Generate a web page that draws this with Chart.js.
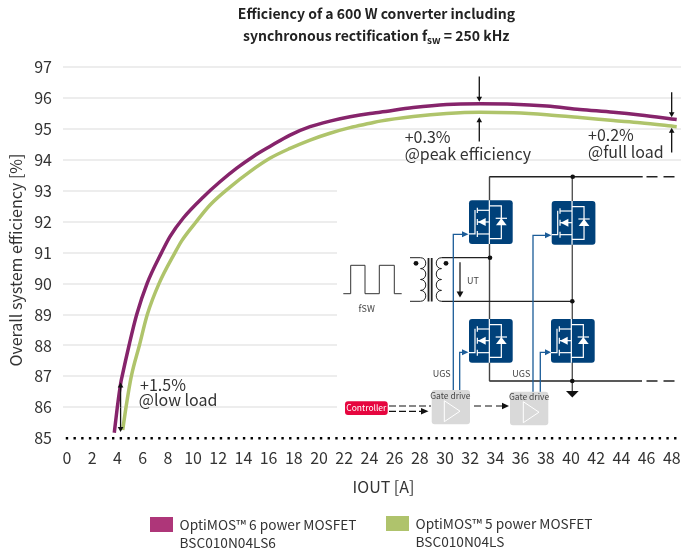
<!DOCTYPE html>
<html>
<head>
<meta charset="utf-8">
<title>Efficiency of a 600 W converter</title>
<script src="https://cdn.jsdelivr.net/npm/chart.js@4/dist/chart.umd.min.js"></script>
<style>
  html, body { margin: 0; padding: 0; background: #fff; }
  canvas { display: block; }
</style>
</head>
<body>
<canvas id="effChart" width="684" height="551"></canvas>
<script>
// values
const iout6 = [3.75, 3.99, 4.26, 4.37, 4.92, 5.53, 6.35, 7.5, 8.17, 9.23, 10.82, 12.14, 13.47, 14.79, 16.1, 17.7, 19.29, 20.87, 22.46, 24.05, 24.84, 27.48, 30.13, 32.78, 35.42, 38.07, 40.71, 43.36, 45.48, 48.39];
const eff6 = [85.18, 86, 86.78, 87, 88, 89, 90, 91, 91.52, 92.12, 92.8, 93.29, 93.73, 94.11, 94.43, 94.8, 95.07, 95.25, 95.39, 95.5, 95.54, 95.69, 95.79, 95.81, 95.8, 95.74, 95.63, 95.54, 95.45, 95.3];
const iout5 = [4.42, 4.68, 5.1, 5.74, 6.37, 7.3, 8.57, 9.1, 10.16, 11.35, 12.94, 14.52, 16.1, 17.7, 19.29, 20.87, 22.46, 24.05, 24.84, 27.48, 30.13, 32.78, 35.42, 38.07, 40.71, 43.36, 45.48, 48.39];
const eff5 = [85.27, 86, 87, 88, 89, 90, 91, 91.38, 91.95, 92.54, 93.12, 93.62, 94.05, 94.37, 94.64, 94.86, 95.04, 95.18, 95.25, 95.4, 95.5, 95.54, 95.52, 95.46, 95.37, 95.27, 95.2, 95.07];
const xTickValues = [0, 2, 4, 6, 8, 10, 12, 14, 16, 18, 20, 22, 24, 26, 28, 30, 32, 34, 36, 38, 40, 42, 44, 46, 48];
const seriesNames = ["OptiMOS\u2122 6 power MOSFET", "OptiMOS\u2122 5 power MOSFET"];
const partNumbers = ["BSC010N04LS6", "BSC010N04LS"];

const FONT = '"Noto Sans CJK SC", "Noto Sans", sans-serif';
const TEXT = "#333333";
const BLUE = "#00417A";
const WIRE = "#1B5C98";

function line(ctx, pts, color, width, dash) {
  ctx.save();
  ctx.strokeStyle = color;
  ctx.lineWidth = width;
  ctx.setLineDash(dash || []);
  ctx.beginPath();
  pts.forEach((p, i) => (i ? ctx.lineTo(p[0], p[1]) : ctx.moveTo(p[0], p[1])));
  ctx.stroke();
  ctx.restore();
}

function tri(ctx, a, b, c, color) {
  ctx.fillStyle = color;
  ctx.beginPath();
  ctx.moveTo(a[0], a[1]);
  ctx.lineTo(b[0], b[1]);
  ctx.lineTo(c[0], c[1]);
  ctx.closePath();
  ctx.fill();
}

function dot(ctx, x, y, r) {
  ctx.fillStyle = "#111";
  ctx.beginPath();
  ctx.arc(x, y, r, 0, Math.PI * 2);
  ctx.fill();
}

function label(ctx, str, x, y, font, color, align) {
  ctx.font = font;
  ctx.fillStyle = color || TEXT;
  ctx.textAlign = align || "left";
  ctx.textBaseline = "middle";
  ctx.fillText(str, x, y);
}

function roundBox(ctx, x, y, w, h, r, color) {
  ctx.fillStyle = color;
  ctx.beginPath();
  ctx.roundRect(x, y, w, h, r);
  ctx.fill();
}

// vertical arrow with the head on the "to" end
function vArrow(ctx, x, from, to, color) {
  const dir = to > from ? 1 : -1;
  line(ctx, [[x, from], [x, to - dir * 3]], color, 1.3);
  tri(ctx, [x - 2.8, to - dir * 5], [x + 2.8, to - dir * 5], [x, to], color);
}

function mosfet(ctx, x, y) {
  const s = 1 / 3; // glyph was measured on the 3x crop
  const w = "#ffffff";
  const P = (a, b) => [x + a * s, y + b * s];
  roundBox(ctx, x, y, 43.7, 43.7, 3, BLUE);
  line(ctx, [P(61, 0), P(61, 131)], w, 1.2);
  line(ctx, [P(61, 17), P(97, 17), P(97, 115), P(61, 115)], w, 1.2);
  line(ctx, [P(0, 101), P(18, 101), P(18, 29)], w, 1.2);
  line(ctx, [P(25, 22), P(25, 38)], w, 1.2);
  line(ctx, [P(25, 56), P(25, 74)], w, 1.2);
  line(ctx, [P(25, 92), P(25, 110)], w, 1.2);
  line(ctx, [P(25, 30), P(61, 30)], w, 1.2);
  line(ctx, [P(25, 65), P(61, 65)], w, 1.2);
  line(ctx, [P(25, 101), P(61, 101)], w, 1.2);
  tri(ctx, P(27, 65), P(50, 53), P(50, 77), w);
  tri(ctx, P(97, 54), P(81, 75), P(113, 75), w);
  line(ctx, [P(80, 54), P(114, 54)], w, 1.2);
}

function coil(ctx, x, top, bottom, bulge) {
  const n = 4;
  const h = (bottom - top) / n;
  ctx.strokeStyle = "#222";
  ctx.lineWidth = 1;
  ctx.beginPath();
  for (let i = 0; i < n; i++) {
    const y = top + i * h;
    ctx.moveTo(x, y);
    ctx.bezierCurveTo(x + bulge, y, x + bulge, y + h, x, y + h);
  }
  ctx.stroke();
}

function drawDiagram(ctx) {
  // rails and bridge legs
  line(ctx, [[489.3, 176.7], [642.7, 176.7]], "#222", 1.4);
  line(ctx, [[646.5, 176.7], [680, 176.7]], "#222", 1.4, [11, 6]);
  line(ctx, [[489.3, 381], [642, 381]], "#222", 1.4);
  line(ctx, [[646.5, 381], [680, 381]], "#222", 1.4, [11, 6]);
  line(ctx, [[489.5, 176.7], [489.5, 381]], "#444", 1.4);
  line(ctx, [[572.3, 176.7], [572.3, 391]], "#555", 1.4);
  tri(ctx, [566, 391], [578.7, 391], [572.3, 397.5], "#111");
  line(ctx, [[441.5, 257.7], [490, 257.7]], "#222", 1.2);
  line(ctx, [[441.5, 301.3], [572.3, 301.3]], "#222", 1.2);
  dot(ctx, 572.7, 176.7, 2.3);
  dot(ctx, 490, 257.7, 2.3);
  dot(ctx, 572.3, 301.3, 2.3);
  dot(ctx, 572.3, 381, 2.3);

  mosfet(ctx, 469, 200.3);
  mosfet(ctx, 551.7, 201);
  mosfet(ctx, 469, 319);
  mosfet(ctx, 551, 319);

  // gate signal wires
  line(ctx, [[453.3, 390], [453.3, 234.3], [464, 234.3]], WIRE, 1.3);
  tri(ctx, [462, 231.3], [462, 237.3], [468.5, 234.3], WIRE);
  line(ctx, [[459.7, 390], [459.7, 352.3], [464, 352.3]], WIRE, 1.3);
  tri(ctx, [462, 349.3], [462, 355.3], [468.5, 352.3], WIRE);
  line(ctx, [[533, 392], [533, 235.3], [547, 235.3]], WIRE, 1.3);
  tri(ctx, [545, 232.3], [545, 238.3], [551.3, 235.3], WIRE);
  line(ctx, [[540.3, 392], [540.3, 352.3], [547, 352.3]], WIRE, 1.3);
  tri(ctx, [545, 349.3], [545, 355.3], [551, 352.3], WIRE);

  // transformer
  line(ctx, [[410, 257.7], [420.5, 257.7]], "#222", 1);
  line(ctx, [[410, 301.3], [420.5, 301.3]], "#222", 1);
  coil(ctx, 420.5, 257.7, 301.3, 7);
  coil(ctx, 441.5, 257.7, 301.3, -7);
  line(ctx, [[428.5, 258], [428.5, 301.5]], "#222", 1.8);
  line(ctx, [[431.7, 258], [431.7, 301.5]], "#222", 1.8);
  dot(ctx, 416, 263.3, 2.4);
  dot(ctx, 446, 263.3, 2.4);
  line(ctx, [[460, 262.3], [460, 293]], "#222", 1.3);
  tri(ctx, [456.6, 291.6], [463.4, 291.6], [460, 297.5], "#111");
  label(ctx, "UT", 467, 281, "9px " + FONT, "#444");

  // switching waveform
  line(ctx, [[343.3, 293.7], [350.7, 293.7], [350.7, 265.3], [365, 265.3], [365, 293.7], [379.3, 293.7], [379.3, 265.3], [394.3, 265.3], [394.3, 293.7], [401.7, 293.7]], "#333", 1);
  label(ctx, "fSW", 366.7, 309, "9px " + FONT, "#444", "center");
  label(ctx, "UGS", 441.7, 374, "9px " + FONT, "#444", "center");
  label(ctx, "UGS", 521.3, 374, "9px " + FONT, "#444", "center");

  // controller and gate drives
  roundBox(ctx, 345, 401.3, 42.7, 13.7, 3, "#E6063F");
  label(ctx, "Controller", 366.3, 408, "8.5px " + FONT, "#fff", "center");
  line(ctx, [[389, 406], [431, 406]], "#111", 1.2, [7, 3]);
  line(ctx, [[389, 411.3], [422, 411.3]], "#111", 1.2, [7, 3]);
  tri(ctx, [421, 408], [421, 414.6], [428.5, 411.3], "#111");

  roundBox(ctx, 431.7, 390, 38.3, 34.3, 3, "#D9D9D9");
  roundBox(ctx, 510, 391.7, 38.3, 33.6, 3, "#D9D9D9");
  label(ctx, "Gate drive", 450.3, 395.5, "8.5px " + FONT, "#444", "center");
  label(ctx, "Gate drive", 529, 396.5, "8.5px " + FONT, "#444", "center");
  line(ctx, [[444.3, 400.7], [444.3, 421.7], [460, 411.2], [444.3, 400.7]], "#fff", 1);
  line(ctx, [[523.3, 401.7], [523.3, 422.7], [539, 412.2], [523.3, 401.7]], "#fff", 1);
  line(ctx, [[474, 406], [502, 406]], "#111", 1.2, [7, 4]);
  tri(ctx, [502, 402.8], [502, 409.2], [509, 406], "#111");
}

// the schematic hides the grid behind it
const whitePatch = {
  id: "whitePatch",
  beforeDatasetsDraw(chart) {
    const { ctx } = chart;
    ctx.fillStyle = "#fff";
    ctx.fillRect(337, 166, 347, 266);
  }
};

const decorations = {
  id: "decorations",
  afterDraw(chart) {
    const { ctx, scales } = chart;
    const X = v => scales.x.getPixelForValue(v);
    const Y = v => scales.y.getPixelForValue(v);

    // title
    const bold = "bold 14px " + FONT;
    label(ctx, "Efficiency of a 600 W converter including", 376.5, 14, bold, "#222", "center");
    label(ctx, "synchronous rectification f", 243, 36, bold, "#222");
    const w = ctx.measureText("synchronous rectification f").width;
    label(ctx, "sw", 243 + w, 40, "bold 10px " + FONT, "#222");
    const w2 = ctx.measureText("sw").width;
    label(ctx, " = 250 kHz", 243 + w + w2, 36, bold, "#222");

    label(ctx, "IOUT [A]", 383.5, 487, "16px " + FONT, TEXT, "center");

    // y axis title, sits lower than the middle of the axis
    ctx.save();
    ctx.translate(16, 260);
    ctx.rotate(-Math.PI / 2);
    label(ctx, "Overall system efficiency [%]", 0, 0, "16px " + FONT, TEXT, "center");
    ctx.restore();

    // difference arrows
    vArrow(ctx, X(32.72), Y(96.69), Y(95.88), "#111");
    vArrow(ctx, X(32.72), Y(94.59), Y(95.38), "#111");
    vArrow(ctx, X(47.99), Y(96.18), Y(95.38), "#111");
    vArrow(ctx, X(47.99), Y(94.24), Y(95.04), "#111");
    vArrow(ctx, X(4.25), Y(86), Y(86.8), "#111");
    vArrow(ctx, X(4.25), Y(86), Y(85.2), "#111");

    const note = "16px " + FONT;
    label(ctx, "+0.3%", X(26.8), Y(94.74), note);
    label(ctx, "@peak efficiency", X(26.8), Y(94.2), note);
    label(ctx, "+0.2%", X(41.35), Y(94.8), note);
    label(ctx, "@full load", X(41.35), Y(94.24), note);
    label(ctx, "+1.5%", X(5.8), Y(86.72), note);
    label(ctx, "@low load", X(5.7), Y(86.24), note);

    drawDiagram(ctx);

    // legend
    const legendX = [150, 386];
    const legendY = [517, 516];
    [ "#AE3679", "#AFC36C" ].forEach((c, i) => {
      ctx.fillStyle = c;
      ctx.fillRect(legendX[i], legendY[i], 23, 15);
      label(ctx, seriesNames[i], legendX[i] + 29.5, legendY[i] + 8, "13.7px " + FONT, TEXT);
      label(ctx, partNumbers[i], legendX[i] + 29.5, legendY[i] + 26, "13.7px " + FONT, TEXT);
    });
  }
};

const toPoints = (xs, ys) => xs.map((x, i) => ({ x: x, y: ys[i] }));

new Chart(document.getElementById("effChart").getContext("2d"), {
  type: "line",
  data: {
    datasets: [
      {
        label: seriesNames[0],
        data: toPoints(iout6, eff6),
        borderColor: "#86246B",
        borderWidth: 3.5,
        pointRadius: 0,
        cubicInterpolationMode: "monotone"
      },
      {
        label: seriesNames[1],
        data: toPoints(iout5, eff5),
        borderColor: "#AFC46B",
        borderWidth: 3.5,
        pointRadius: 0,
        cubicInterpolationMode: "monotone"
      },
      {
        label: "85 baseline",
        data: [{ x: -0.1, y: 85 }, { x: 48.73, y: 85 }],
        borderColor: "#000",
        borderWidth: 2.6,
        borderCapStyle: "butt",
        borderDash: [2.4, 5.3],
        pointRadius: 0,
        clip: 4
      }
    ]
  },
  options: {
    responsive: false,
    animation: false,
    layout: { padding: { top: 67, right: 3, left: 0, bottom: 0 } },
    plugins: {
      legend: { display: false },
      tooltip: { enabled: false },
      title: { display: false }
    },
    scales: {
      x: {
        type: "linear",
        min: -0.32,
        max: 48.73,
        afterBuildTicks: axis => { axis.ticks = xTickValues.map(v => ({ value: v })); },
        afterFit: axis => {
          axis.height = 112.7;
          // keep the "48" label from pulling the plot area in
          axis.paddingLeft = 0;
          axis.paddingRight = 0;
        },
        grid: { display: false, drawTicks: false },
        border: { display: false },
        ticks: {
          autoSkip: false,
          maxRotation: 0,
          padding: 10,
          color: TEXT,
          font: { family: FONT, size: 16 }
        }
      },
      y: {
        min: 85,
        max: 97,
        afterFit: axis => { axis.width = 63; },
        grid: {
          drawTicks: false,
          lineWidth: 2,
          color: c => (c.tick.value === 85 ? "rgba(0,0,0,0)" : "#EDEDED")
        },
        border: { display: false },
        ticks: {
          stepSize: 1,
          padding: 11,
          color: TEXT,
          font: { family: FONT, size: 16 }
        }
      }
    }
  },
  plugins: [whitePatch, decorations]
});
</script>
</body>
</html>
